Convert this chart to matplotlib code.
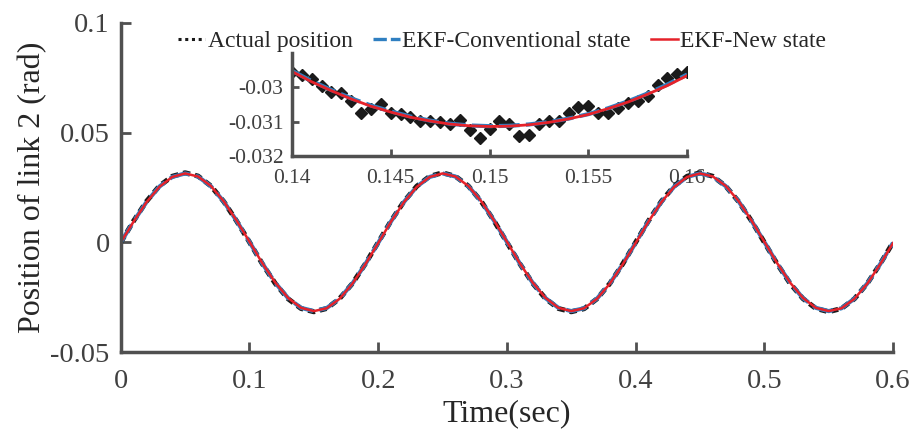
import matplotlib
matplotlib.use("Agg")
from matplotlib import pyplot as plt

# --- data ---------------------------------------------------------------
# main plot, 0.01 s steps
t_main = [round(0.01 * i, 2) for i in range(61)]
actual = [0.0000, 0.0098, 0.0187, 0.0257, 0.0301, 0.0317, 0.0302, 0.0257, 0.0186, 0.0097,
          0.0001, -0.0098, -0.0187, -0.0257, -0.0301, -0.0316, -0.0301, -0.0256, -0.0187, -0.0098,
          0.0000, 0.0098, 0.0186, 0.0256, 0.0301, 0.0317, 0.0301, 0.0257, 0.0187, 0.0098,
          0.0000, -0.0097, -0.0186, -0.0256, -0.0301, -0.0316, -0.0302, -0.0257, -0.0187, -0.0098,
          0.0000, 0.0098, 0.0187, 0.0257, 0.0301, 0.0317, 0.0301, 0.0256, 0.0186, 0.0098,
          0.0000, -0.0098, -0.0187, -0.0256, -0.0301, -0.0316, -0.0301, -0.0257, -0.0187, -0.0098,
          0.0000]
ekf_conv = [0.0000, 0.0096, 0.0184, 0.0254, 0.0298, 0.0314, 0.0300, 0.0256, 0.0186, 0.0098,
            0.0002, -0.0096, -0.0184, -0.0254, -0.0298, -0.0313, -0.0299, -0.0256, -0.0187, -0.0099,
            -0.0002, 0.0096, 0.0184, 0.0254, 0.0298, 0.0314, 0.0300, 0.0256, 0.0187, 0.0099,
            0.0002, -0.0096, -0.0184, -0.0254, -0.0298, -0.0313, -0.0300, -0.0256, -0.0187, -0.0099,
            -0.0002, 0.0096, 0.0184, 0.0254, 0.0298, 0.0314, 0.0300, 0.0256, 0.0187, 0.0099,
            0.0002, -0.0096, -0.0184, -0.0254, -0.0298, -0.0313, -0.0300, -0.0256, -0.0187, -0.0099,
            -0.0002]
ekf_new = [0.0000, 0.0095, 0.0183, 0.0253, 0.0298, 0.0314, 0.0300, 0.0257, 0.0187, 0.0099,
           0.0003, -0.0095, -0.0183, -0.0253, -0.0298, -0.0313, -0.0300, -0.0257, -0.0188, -0.0100,
           -0.0003, 0.0095, 0.0183, 0.0253, 0.0298, 0.0314, 0.0300, 0.0257, 0.0188, 0.0100,
           0.0003, -0.0095, -0.0183, -0.0253, -0.0298, -0.0313, -0.0300, -0.0257, -0.0188, -0.0100,
           -0.0003, 0.0095, 0.0183, 0.0253, 0.0298, 0.0314, 0.0300, 0.0257, 0.0188, 0.0100,
           0.0003, -0.0095, -0.0183, -0.0253, -0.0298, -0.0313, -0.0300, -0.0257, -0.0188, -0.0100,
           -0.0003]

# zoomed window 0.14 - 0.16 s
t_zoom_act = [round(0.14 + 0.0005 * i, 4) for i in range(41)]
actual_zoom = [-0.02956, -0.02965, -0.02976, -0.02997, -0.03015, -0.03018, -0.03041, -0.03074,
               -0.03062, -0.03050, -0.03074, -0.03079, -0.03085, -0.03099, -0.03097, -0.03100,
               -0.03106, -0.03094, -0.03124, -0.03147, -0.03121, -0.03097, -0.03106, -0.03141,
               -0.03138, -0.03106, -0.03097, -0.03097, -0.03074, -0.03056, -0.03053, -0.03076,
               -0.03074, -0.03059, -0.03047, -0.03041, -0.03024, -0.02994, -0.02974, -0.02962,
               -0.02956]
t_zoom = [round(0.14 + 0.001 * i, 3) for i in range(21)]
conv_zoom = [-0.02952, -0.02982, -0.03008, -0.03032, -0.03053, -0.03070, -0.03085, -0.03097,
             -0.03106, -0.03111, -0.03113, -0.03112, -0.03108, -0.03101, -0.03091, -0.03078,
             -0.03061, -0.03041, -0.03018, -0.02992, -0.02963]
new_zoom = [-0.02954, -0.02984, -0.03010, -0.03034, -0.03055, -0.03072, -0.03087, -0.03098,
            -0.03107, -0.03112, -0.03114, -0.03113, -0.03109, -0.03102, -0.03092, -0.03079,
            -0.03062, -0.03043, -0.03020, -0.02995, -0.02966]

c_act = "#1a1a1a"
c_conv = "#2f7fc1"
c_new = "#e5222a"
c_ax = "#505050"
c_txt = "#404040"

plt.rcParams["font.family"] = "Liberation Serif"

fig = plt.figure(figsize=(9.15, 4.3), dpi=100)

# main axes
ax = fig.add_axes([0.132, 0.181, 0.844, 0.766])
ax.set_facecolor("none")
ax.set_zorder(2)
ax.plot(t_main, actual, color=c_act, linestyle=(0, (1.4, 1.0)), linewidth=3.6, label="Actual position")
ax.plot(t_main, ekf_conv, color=c_conv, linestyle=(0, (5, 1.5)), linewidth=3.0, label="EKF-Conventional state")
ax.plot(t_main, ekf_new, color=c_new, linewidth=1.8, label="EKF-New state")
ax.set_xlim(0, 0.6)
ax.set_ylim(-0.05, 0.1)
ax.set_xticks([0, 0.1, 0.2, 0.3, 0.4, 0.5, 0.6])
ax.set_xticklabels(["0", "0.1", "0.2", "0.3", "0.4", "0.5", "0.6"])
ax.set_yticks([-0.05, 0, 0.05, 0.1])
ax.set_yticklabels(["-0.05", "0", "0.05", "0.1"])
ax.set_xlabel("Time(sec)", fontsize=23, color="#262626", labelpad=4)
ax.set_ylabel("Position of link 2 (rad)", fontsize=23, color="#262626", labelpad=2)
ax.tick_params(axis="y", pad=8)
ax.tick_params(axis="x", pad=12)
ax.tick_params(direction="in", length=7, width=2, colors=c_ax, labelcolor=c_txt, labelsize=20.5)
for s in ["top", "right"]:
    ax.spines[s].set_visible(False)
for s in ["left", "bottom"]:
    ax.spines[s].set_linewidth(2.5)
    ax.spines[s].set_color(c_ax)

leg = ax.legend(loc="upper center", bbox_to_anchor=(0.494, 1.04), ncol=3, frameon=False,
                fontsize=17, handlelength=1.15, handletextpad=0.1, columnspacing=0.85)
for txt in leg.get_texts():
    txt.set_color("#262626")
leg_lines = leg.get_lines()
leg_lines[0].set_linewidth(2.2)
leg_lines[0].set_linestyle((0, (1, 1.2)))
leg_lines[1].set_linewidth(2.4)
leg_lines[1].set_linestyle((0, (4, 1.2)))

# inset
axi = fig.add_axes([0.319, 0.637, 0.432, 0.240])
axi.set_zorder(1)
axi.plot(t_zoom_act, actual_zoom, color=c_act, linestyle="none", marker="D", markersize=6)
axi.plot(t_zoom, conv_zoom, color=c_conv, linestyle=(0, (5, 1.5)), linewidth=3.0)
axi.plot(t_zoom, new_zoom, color=c_new, linewidth=2.0)
axi.set_xlim(0.14, 0.16)
axi.set_ylim(-0.032, -0.029)
axi.set_xticks([0.14, 0.145, 0.15, 0.155, 0.16])
axi.set_xticklabels(["0.14", "0.145", "0.15", "0.155", "0.16"])
axi.set_yticks([-0.032, -0.031, -0.03])
axi.set_yticklabels(["-0.032", "-0.031", "-0.03"])
axi.tick_params(axis="x", pad=9)
axi.tick_params(axis="y", pad=6)
axi.tick_params(direction="in", length=5, width=2, colors=c_ax, labelcolor=c_txt, labelsize=15.5)
for s in ["top", "right"]:
    axi.spines[s].set_visible(False)
for s in ["left", "bottom"]:
    axi.spines[s].set_linewidth(2.5)
    axi.spines[s].set_color(c_ax)

plt.savefig("out.png", dpi=100)
